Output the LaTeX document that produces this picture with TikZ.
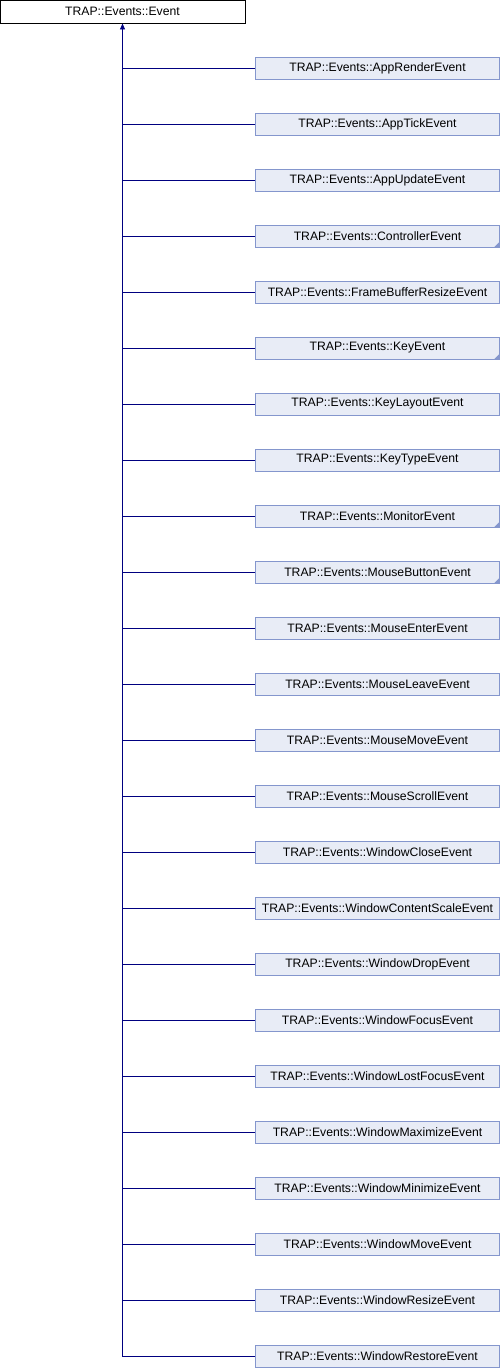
\documentclass[tikz,border=0pt]{standalone}
\usepackage{fontspec}
\setmainfont{Liberation Sans}
\usetikzlibrary{arrows.meta}
\definecolor{boxfill}{RGB}{232,236,246}
\definecolor{boxline}{RGB}{132,150,205}
\definecolor{edgecol}{RGB}{0,0,128}
\tikzset{
  basebox/.style={draw=black, fill=white, line width=0.9pt, minimum width=245pt, minimum height=22.5pt, inner sep=0pt, font=\fontsize{12.2}{14}\selectfont},
  classbox/.style={draw=boxline, fill=boxfill, line width=0.9pt, minimum width=244pt, minimum height=22pt, inner sep=0pt, font=\fontsize{12.2}{14}\selectfont},
  edge/.style={draw=edgecol, line width=0.9pt},
  edgearrow/.style={edge, -{Triangle[length=6pt,width=5pt]}},
  corner/.style={fill=boxline}
}
\begin{document}
\begin{tikzpicture}[x=1pt,y=-1pt]
\useasboundingbox (0,0) rectangle (500,1368);
\node[basebox] (top) at (122.5,11.75) {TRAP::Events::Event};
\foreach [count=\i from 0] \name/\tri in {
  AppRenderEvent/0, AppTickEvent/0, AppUpdateEvent/0, ControllerEvent/1,
  FrameBufferResizeEvent/0, KeyEvent/1, KeyLayoutEvent/0, KeyTypeEvent/0,
  MonitorEvent/1, MouseButtonEvent/1, MouseEnterEvent/0, MouseLeaveEvent/0,
  MouseMoveEvent/0, MouseScrollEvent/0, WindowCloseEvent/0,
  WindowContentScaleEvent/0, WindowDropEvent/0, WindowFocusEvent/0,
  WindowLostFocusEvent/0, WindowMaximizeEvent/0, WindowMinimizeEvent/0,
  WindowMoveEvent/0, WindowResizeEvent/0, WindowRestoreEvent/0} {
  \node[classbox] (c\i) at (377.5,{68+56*\i}) {TRAP::Events::\name};
  \ifnum\tri=1
    \fill[corner] (c\i.south east) -- ++(-6,0) -- ++(6,-6) -- cycle;
  \fi
  \ifnum\i<23
    \draw[edge] (c\i.west) -- (c\i.west -| top.south);
  \fi
}
\draw[edgearrow] (c23.west) -| (top.south);
\end{tikzpicture}
\end{document}
